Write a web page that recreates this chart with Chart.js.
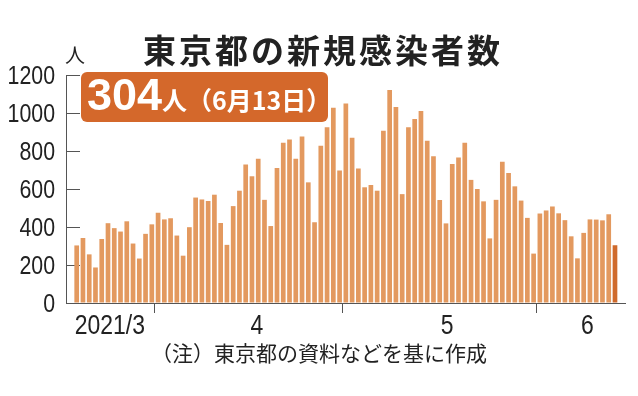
<!DOCTYPE html>
<html>
<head>
<meta charset="utf-8">
<script src="https://cdn.jsdelivr.net/npm/chart.js@4/dist/chart.umd.min.js"></script>
<style>
  html, body { margin: 0; padding: 0; background: #fff; }
  #wrap { width: 638px; height: 396px; position: relative; }
</style>
</head>
<body>
<div id="wrap"><canvas id="c"></canvas></div>
<script>
// Daily new cases in Tokyo (2021/3/19 - 2021/6/13)
const marchDays = [19,20,21,22,23,24,25,26,27,28,29,30,31];
const marchValues = [303,342,256,187,337,420,394,376,430,313,234,364,414];
const aprilValues = [475,440,446,355,249,399,555,545,537,570,421,306,510,591,729,667,759,543,405,711,843,861,759,876,635,425,828,925,1027,698];
const mayValues = [1050,870,708,609,621,591,907,1121,1032,573,925,969,1010,854,772,542,419,732,766,843,648,600,535,340,543,743,684,614,539,448,260];
const juneValues = [471,487,508,472,436,351,235,369,440,439,435,467,304];
const monthLabels = ['2021/3', '4', '5', '6'];
const yTicks = [0, 200, 400, 600, 800, 1000, 1200];

const titleText = '東京都の新規感染者数';
const unitText = '人';
const calloutValue = '304';
const calloutRest = '人（6月13日）';
const noteText = '（注）東京都の資料などを基に作成';

// build categories (dates) and series
const months = [
  { m: 3, days: marchDays, vals: marchValues },
  { m: 4, days: aprilValues.map((_, i) => i + 1), vals: aprilValues },
  { m: 5, days: mayValues.map((_, i) => i + 1), vals: mayValues },
  { m: 6, days: juneValues.map((_, i) => i + 1), vals: juneValues }
];
const categories = [];
const values = [];
const monthStarts = [];
months.forEach(mo => {
  monthStarts.push(categories.length);
  mo.days.forEach((d, i) => { categories.push(mo.m + '/' + d); values.push(mo.vals[i]); });
});
const points = values.map((v, i) => ({ x: i, y: v }));
const boundaries = monthStarts.slice(1).map(s => s - 0.5);
// label anchors on the day axis (as placed in the original)
const labelAnchors = [5.3, 28.8, 59.2, 81.6];

const NUM_FONT = '"Liberation Sans", Arial, sans-serif';
const JP_FONT = '"Noto Sans CJK JP", "Noto Sans", sans-serif';
const BAR = '#E3995F';
const BAR_LAST = '#CF6A2C';
const BOX = '#D4682B';
const AXIS = '#555555';
const TEXT = '#222222';
const NARROW = 0.82;

const xMin = -1.71, xMax = 87.6;

function narrowText(ctx, txt, x, y, align) {
  ctx.save();
  ctx.translate(x, y);
  ctx.scale(NARROW, 1);
  ctx.textAlign = align;
  ctx.fillText(txt, 0, 0);
  ctx.restore();
}

const overlay = {
  id: 'overlay',
  afterDraw(chart) {
    const ctx = chart.ctx;
    const xs = chart.scales.x, ys = chart.scales.y;
    ctx.save();
    // axis tick labels (condensed numerals)
    ctx.fillStyle = TEXT;
    ctx.textBaseline = 'middle';
    ctx.font = '26px ' + NUM_FONT;
    yTicks.forEach(v => narrowText(ctx, String(v), 55, ys.getPixelForValue(v) + 2, 'right'));
    ctx.font = '28px ' + NUM_FONT;
    monthLabels.forEach((t, i) => narrowText(ctx, t, xs.getPixelForValue(labelAnchors[i]), 326, 'center'));

    // title
    ctx.textAlign = 'center';
    ctx.textBaseline = 'middle';
    ctx.font = 'bold 33px ' + JP_FONT;
    try { ctx.letterSpacing = '3px'; } catch (e) {}
    ctx.fillText(titleText, 323, 50);
    try { ctx.letterSpacing = '0px'; } catch (e) {}
    // unit
    ctx.font = '20px ' + JP_FONT;
    ctx.fillText(unitText, 75, 55);
    // callout box
    ctx.fillStyle = BOX;
    ctx.beginPath();
    ctx.roundRect(81, 72, 247, 50, 6);
    ctx.fill();
    ctx.fillStyle = '#ffffff';
    ctx.textAlign = 'left';
    ctx.textBaseline = 'alphabetic';
    ctx.font = 'bold 45px "Liberation Sans", Arial, sans-serif';
    ctx.fillText(calloutValue, 87, 110);
    const w = ctx.measureText(calloutValue).width;
    ctx.font = 'bold 25px ' + JP_FONT;
    ctx.fillText(calloutRest, 87 + w, 110);
    // footnote
    ctx.fillStyle = TEXT;
    ctx.textAlign = 'center';
    ctx.textBaseline = 'middle';
    ctx.font = '21px ' + JP_FONT;
    ctx.fillText(noteText, 319, 353);
    ctx.restore();
  }
};

new Chart(document.getElementById('c'), {
  type: 'bar',
  data: {
    labels: categories,
    datasets: [{
      data: points,
      backgroundColor: c => c.dataIndex === values.length - 1 ? BAR_LAST : BAR,
      borderWidth: 0,
      barPercentage: 0.75,
      categoryPercentage: 1.0
    }]
  },
  options: {
    responsive: true,
    maintainAspectRatio: false,
    animation: false,
    events: [],
    layout: { padding: { top: 75, right: 13, bottom: 83, left: 0 } },
    plugins: { legend: { display: false }, tooltip: { enabled: false }, title: { display: false } },
    scales: {
      x: {
        type: 'linear', min: xMin, max: xMax, offset: false, position: 'bottom',
        grid: { display: true, drawOnChartArea: false, offset: false, tickLength: 10, color: AXIS, lineWidth: 1 },
        border: { display: true, color: AXIS, width: 1 },
        ticks: { display: false },
        afterBuildTicks: s => { s.ticks = boundaries.map(v => ({ value: v })); }
      },
      y: {
        min: 0, max: 1200, position: 'left',
        grid: { drawOnChartArea: false, tickLength: -14, color: AXIS, lineWidth: 1 },
        border: { display: true, color: AXIS, width: 1 },
        ticks: { display: false },
        afterBuildTicks: s => { s.ticks = yTicks.map(v => ({ value: v })); },
        afterFit: s => { s.width = 66; }
      }
    }
  },
  plugins: [overlay]
});
</script>
</body>
</html>
